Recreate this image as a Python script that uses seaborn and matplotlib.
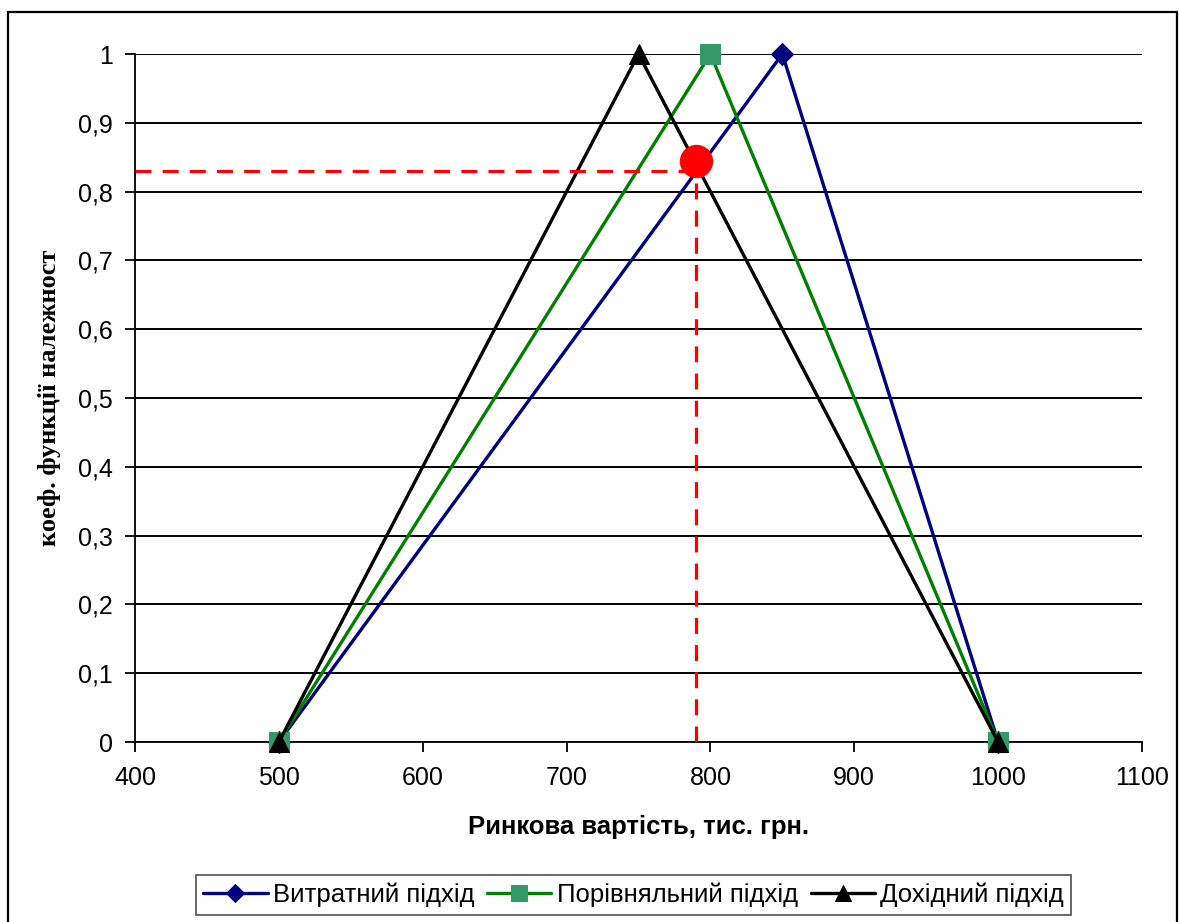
import matplotlib
matplotlib.use('Agg')
import matplotlib.pyplot as plt
import seaborn as sns
import pandas as pd
from matplotlib.patches import Rectangle

# membership functions (triangles) for the three valuation approaches
x_cost = [500, 850, 1000]
y_cost = [0, 1, 0]
x_comp = [500, 800, 1000]
y_comp = [0, 1, 0]
x_income = [500, 750, 1000]
y_income = [0, 1, 0]
labels = ['Витратний підхід', 'Порівняльний підхід', 'Дохідний підхід']

# result point
res_x = 790
res_y = 0.845
res_level = 0.83

sns.set_style('white')
plt.rcParams['font.family'] = ['Liberation Sans', 'DejaVu Sans']
plt.rcParams['text.color'] = 'black'

df = pd.concat([
    pd.DataFrame({'x': x_cost, 'y': y_cost, 'approach': labels[0]}),
    pd.DataFrame({'x': x_comp, 'y': y_comp, 'approach': labels[1]}),
    pd.DataFrame({'x': x_income, 'y': y_income, 'approach': labels[2]}),
])

fig = plt.figure(figsize=(11.79, 9.22), dpi=100)
ax = fig.add_axes([135 / 1179, 1 - 742 / 922, 1007 / 1179, 688 / 922])

styles = {
    labels[0]: dict(color='#000080', marker='D', markersize=11, mfc='#000080', mec='#000080'),
    labels[1]: dict(color='#008000', marker='s', markersize=14, mfc='#339966', mec='#339966'),
    labels[2]: dict(color='black', marker='^', markersize=15, mfc='black', mec='black'),
}
for name in labels:
    st = styles[name]
    sns.lineplot(data=df[df['approach'] == name], x='x', y='y', ax=ax, label=name,
                 color=st['color'], marker=st['marker'], markersize=st['markersize'],
                 markerfacecolor=st['mfc'], markeredgecolor=st['mec'], linewidth=2.4,
                 estimator=None, sort=False, clip_on=False, zorder=3)

# red dashed guides and result point
ax.plot([400, res_x], [res_level, res_level], color='red', lw=2.3, dashes=(5, 3.5), zorder=4)
ax.plot([res_x, res_x], [0, res_level], color='red', lw=2.3, dashes=(5, 3.5), zorder=4)
ax.plot([res_x], [res_y], marker='o', markersize=23, color='red', zorder=5, clip_on=False)

ax.set_xlim(400, 1100)
ax.set_ylim(0, 1)
ax.set_xticks(range(400, 1101, 100))
ax.set_yticks([i / 10 for i in range(11)])
ax.set_yticklabels(['0'] + [f'0,{i}' for i in range(1, 10)] + ['1'])
ax.tick_params(axis='both', labelsize=18, direction='out', length=7, width=1.3,
               color='black', labelcolor='black')
ax.tick_params(axis='x', pad=10)
ax.tick_params(axis='y', pad=9)
ax.yaxis.set_ticks_position('left')
ax.xaxis.set_ticks_position('bottom')
ax.grid(axis='y', color='black', lw=1.4)
ax.set_axisbelow(True)
for s in ['top', 'right']:
    ax.spines[s].set_visible(False)
for s in ['left', 'bottom']:
    ax.spines[s].set_color('black')
    ax.spines[s].set_linewidth(1.3)

ax.set_xlabel('Ринкова вартість, тис. грн.', fontsize=18.5, fontweight='bold',
              color='black', labelpad=18)
ax.set_ylabel('коеф. функції належност', fontsize=19, fontweight='bold', color='black',
              family=['Liberation Serif', 'DejaVu Serif'], labelpad=12)

ax.get_legend().remove()
handles, hl = ax.get_legend_handles_labels()
handles = [h for h, l in zip(handles, hl) if l in labels]
leg = fig.legend(handles, labels, loc='center', bbox_to_anchor=(633.5 / 1179, 1 - 895 / 922),
                 ncol=3, fontsize=18.5, frameon=True, fancybox=False, edgecolor='#333333',
                 handlelength=2.5, handletextpad=0.2, columnspacing=0.5, borderpad=0.3,
                 markerscale=0.8)
leg.get_frame().set_linewidth(1.3)

# outer chart border
fig.patches.append(Rectangle((8 / 1179, -0.01), 1169 / 1179, (922 - 12) / 922 + 0.01,
                             transform=fig.transFigure, fill=False, edgecolor='black', lw=1.6))

fig.savefig('out.png', dpi=100)
